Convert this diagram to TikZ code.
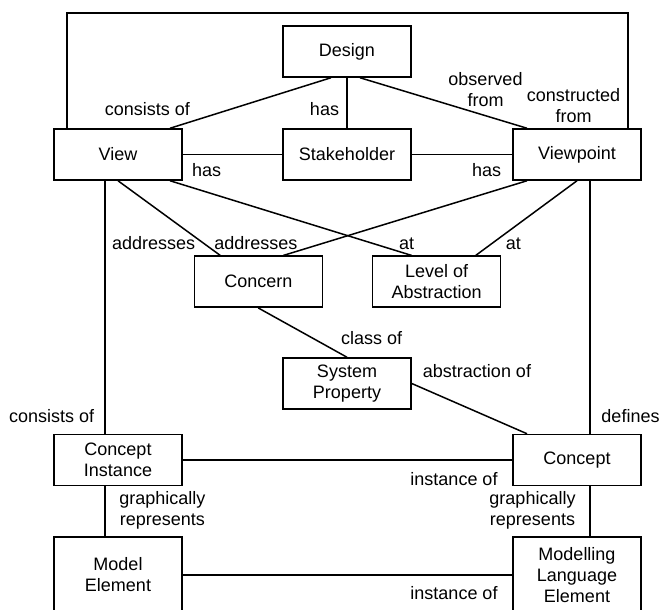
\documentclass[tikz,border=0pt]{standalone}
\usepackage{fontspec}
\setmainfont{Liberation Sans}
\begin{document}
\begin{tikzpicture}[x=1pt,y=-1pt,
  box/.style={draw, line width=1.5pt, minimum width=128pt, minimum height=51pt, inner sep=0pt, align=center},
  tallbox/.style={box, minimum height=76pt},
  lbl/.style={inner sep=0pt, align=center},
  conn/.style={line width=1.5pt},
  every node/.style={font=\fontsize{18}{21}\selectfont}]
\useasboundingbox (0,0) rectangle (659,610);
% nodes
\node[box] (design) at (347,51.5) {Design};
\node[box] (view) at (118,154.5) {View};
\node[box] (stake) at (347,154.5) {Stakeholder};
\node[box] (vp) at (577,154.5) {Viewpoint};
\node[box] (concern) at (258.3,281.7) {Concern};
\node[box] (loa) at (436.7,281.7) {Level of\\Abstraction};
\node[box] (sp) at (347,383.5) {System\\Property};
\node[box] (ci) at (118,460) {Concept\\Instance};
\node[box] (concept) at (577,460) {Concept};
\node[tallbox] (me) at (118,575) {Model\\Element};
\node[tallbox] (mle) at (577,575) {Modelling\\Language\\Element};
% connectors
\draw[conn] ([xshift=-51pt]view.north) -- ++(0,-115) -| ([xshift=51pt]vp.north);
\draw[conn] ([xshift=-16pt]design.south) -- ([xshift=52pt]view.north);
\draw[conn] (design.south) -- (stake.north);
\draw[conn] ([xshift=13pt]design.south) -- ([xshift=-50pt]vp.north);
\draw[conn] (view.east) -- (stake.west);
\draw[conn] (stake.east) -- (vp.west);
\draw[conn] (view.south) -- ([xshift=-38pt]concern.north);
\draw[conn] ([xshift=52pt]view.south) -- ([xshift=-25pt]loa.north);
\draw[conn] ([xshift=-50pt]vp.south) -- ([xshift=25pt]concern.north);
\draw[conn] (vp.south) -- ([xshift=39pt]loa.north);
\draw[conn] ([xshift=-13pt]view.south) -- ([xshift=-13pt]ci.north);
\draw[conn] ([xshift=13pt]vp.south) -- ([xshift=13pt]concept.north);
\draw[conn] (concern.south) -- (sp.north);
\draw[conn] (sp.east) -- ([xshift=-50pt]concept.north);
\draw[conn] (ci.east) -- (concept.west);
\draw[conn] ([xshift=-13pt]ci.south) -- ([xshift=-13pt]me.north);
\draw[conn] ([xshift=13pt]concept.south) -- ([xshift=13pt]mle.north);
\draw[conn] (me.east) -- (mle.west);
% labels
\node[lbl] (l1) at (147.5,109) {consists of};
\node[lbl] (l2) at (324.5,109) {has};
\node[lbl] (l3) at (485.5,89.5) {observed\\from};
\node[lbl] (l4) at (573.5,106) {constructed\\from};
\node[lbl] (l5) at (206.7,170) {has};
\node[lbl] (l6) at (486.7,170) {has};
\node[lbl] (l7) at (153.7,243.3) {addresses};
\node[lbl] (l8) at (255.8,243.3) {addresses};
\node[lbl] (l9) at (406.7,243.3) {at};
\node[lbl] (l10) at (513.3,243.3) {at};
\node[lbl] (l11) at (371.7,338.3) {class of};
\node[lbl] (l12) at (477,371) {abstraction of};
\node[lbl] (l13) at (51.7,416) {consists of};
\node[lbl] (l14) at (630.5,416) {defines};
\node[lbl] (l15) at (454,479.3) {instance of};
\node[lbl] (l16) at (162.3,510.3) {graphically\\represents};
\node[lbl] (l17) at (532.5,510.3) {graphically\\represents};
\node[lbl] (l18) at (454,592.7) {instance of};
\end{tikzpicture}
\end{document}
